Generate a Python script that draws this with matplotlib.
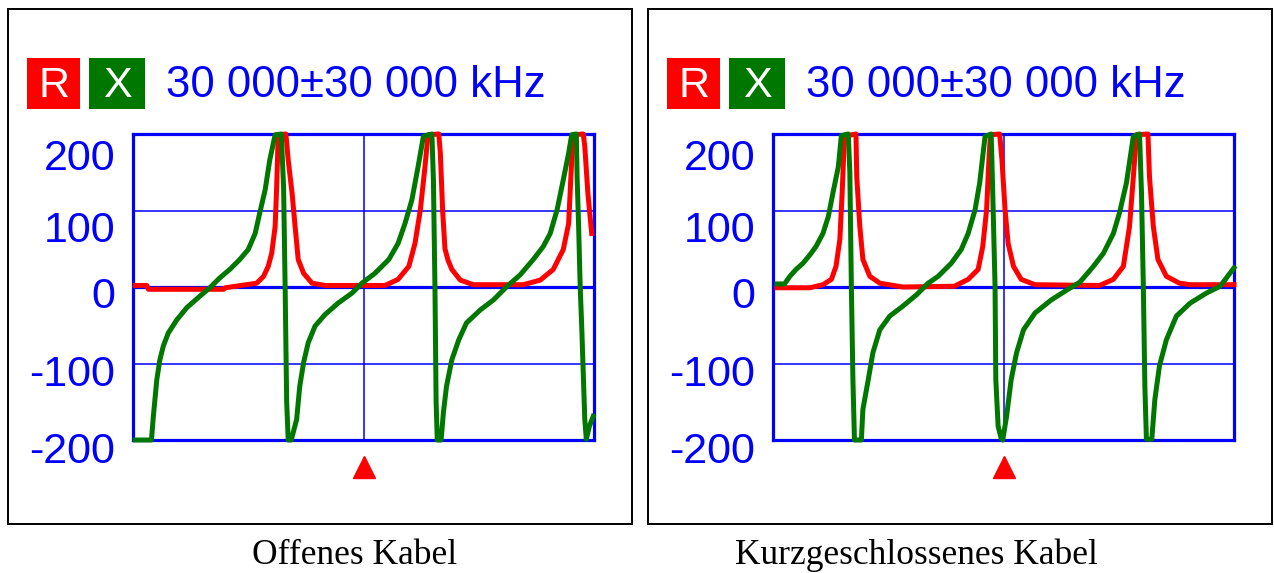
import matplotlib
matplotlib.use("Agg")
import matplotlib.pyplot as plt
from matplotlib.patches import Rectangle
from matplotlib import transforms

# frequency axis (MHz) and sweep setting shown in the header
f_center = 30.0
f_span = 30.0
header = "30 000±30 000 kHz"
ytick_values = [-200, -100, 0, 100, 200]
captions = ["Offenes Kabel", "Kurzgeschlossenes Kabel"]

# open cable: R (red) and X (green)
open_r_mhz = [0.3, 1.8, 2.0, 11.8, 12.0, 16.1, 17.0, 17.6, 18.05, 18.5,
              18.7, 18.9, 19.9, 20.2, 20.7, 21.1, 21.5, 22.2, 23.3, 25.0,
              32.8, 34.5, 35.9, 36.7, 37.4, 38.0, 38.4, 39.8, 40.0, 40.3,
              40.6, 41.0, 41.5, 42.6, 44.3, 50.8, 53.0, 54.7, 56.0, 56.7,
              57.1, 57.3, 58.6, 58.8, 59.2, 59.7]
open_r = [2, 2, -3, -3, -1, 5, 14, 27, 44, 79,
          131, 199, 200, 166, 123, 79, 36, 18, 5, 2,
          2, 10, 27, 57, 101, 157, 199, 200, 175, 100,
          50, 35, 23, 9, 3, 3, 9, 23, 49, 83,
          166, 199, 200, 184, 123, 70]

open_x_mhz = [0.3, 2.4, 2.65, 3.1, 3.5, 3.95, 4.6, 5.7, 7.0, 8.7,
              10.0, 11.3, 12.6, 13.9, 15.0, 15.9, 16.5, 17.2, 17.8, 18.5,
              19.3, 19.6, 19.8, 20.0, 20.2, 20.6, 21.3, 21.7, 22.2, 22.8,
              23.7, 25.0, 26.7, 28.5, 29.8, 31.5, 33.3, 34.5, 35.4, 36.3,
              37.1, 37.8, 38.9, 39.1, 39.3, 39.45, 39.6, 40.1, 40.4, 40.8,
              41.5, 42.4, 43.4, 45.2, 46.9, 48.7, 50.4, 52.1, 53.4, 54.3,
              55.2, 56.0, 56.7, 57.1, 57.7, 57.8, 58.0, 58.2, 58.4, 58.6,
              58.8, 59.0, 59.4, 59.9]
open_x = [-200, -200, -169, -121, -95, -77, -60, -43, -27, -12,
          -1, 12, 23, 36, 49, 70, 97, 127, 166, 199,
          200, 130, 0, -150, -200, -200, -173, -130, -99, -73,
          -51, -36, -21, -8, 5, 18, 36, 57, 83, 114,
          157, 197, 200, 140, 0, -150, -200, -200, -164, -130,
          -95, -69, -47, -30, -17, 1, 16, 36, 53, 70,
          101, 140, 175, 199, 200, 144, 79, 1, -51, -112,
          -173, -199, -182, -169]

# short-circuited cable
short_r_mhz = [0.5, 4.8, 6.5, 7.6, 8.2, 8.7, 9.0, 9.3, 10.8, 10.9,
               11.3, 11.7, 12.6, 13.9, 16.9, 23.6, 25.4, 26.7, 27.3, 27.8,
               28.1, 28.3, 29.5, 29.8, 30.2, 30.6, 31.3, 32.3, 34.1, 42.5,
               44.3, 45.6, 46.4, 46.9, 47.3, 48.8, 49.0, 49.5, 50.1, 51.2,
               52.9, 54.3, 60.0]
short_r = [-1, -1, 3, 10, 27, 62, 123, 197, 200, 144,
           79, 36, 14, 5, 0, 1, 10, 23, 53, 101,
           166, 199, 200, 166, 101, 57, 27, 10, 3, 2,
           10, 27, 79, 144, 199, 200, 144, 79, 36, 14,
           5, 3, 3]

short_x_mhz = [0.5, 1.5, 2.2, 3.0, 3.9, 4.8, 5.6, 6.5, 7.2, 7.8,
               8.5, 8.9, 9.8, 10.0, 10.2, 10.4, 10.6, 11.5, 11.7, 12.4,
               13.0, 13.9, 15.2, 16.9, 18.7, 20.2, 21.5, 23.2, 24.5, 25.4,
               26.3, 26.9, 27.6, 28.4, 28.6, 28.9, 29.0, 29.3, 29.7, 29.9,
               30.4, 31.0, 31.7, 32.6, 34.1, 36.2, 38.4, 39.9, 40.6, 41.7,
               43.0, 44.3, 45.1, 46.0, 46.9, 47.7, 47.96, 48.2, 48.4, 48.6,
               49.3, 49.7, 50.3, 51.2, 52.5, 54.3, 56.4, 58.2, 60.0]
short_x = [4, 4, 14, 23, 31, 42, 53, 70, 92, 123,
           157, 198, 200, 150, 0, -120, -200, -200, -160, -121,
           -86, -56, -38, -25, -10, 5, 14, 31, 49, 70,
           101, 136, 197, 200, 123, 1, -121, -182, -198, -200,
           -169, -121, -86, -56, -34, -17, -3, 6, 14, 27,
           44, 70, 97, 136, 197, 200, 123, 1, -130, -199,
           -199, -147, -103, -69, -38, -21, -8, 1, 25]

W, H = 1274, 573
BLUE = "#0000ff"
RED = "#ff0000"
GREEN = "#007800"
SANS = ["Liberation Sans", "DejaVu Sans"]
SERIF = ["Liberation Serif", "DejaVu Serif"]
FS = 31

fig = plt.figure(figsize=(W / 100, H / 100), dpi=100)


def fbox(x0, y0, x1, y1):
    # pixel box (top-left origin) -> figure fraction rect
    return [x0 / W, 1 - y1 / H, (x1 - x0) / W, (y1 - y0) / H]


def fxy(x, y):
    return x / W, 1 - y / H


label_drop = {-200: 23, -100: 22, 0: 21, 100: 31, 200: 36}

panels = [(0, open_r_mhz, open_r, open_x_mhz, open_x, captions[0], 355),
          (640, short_r_mhz, short_r, short_x_mhz, short_x, captions[1], 916)]

for dx, r_f, r_v, x_f, x_v, cap, cap_x in panels:
    # outer frame of the screenshot
    fr = fbox(8 + dx, 9, 632 + dx, 524)
    fig.patches.append(Rectangle((fr[0], fr[1]), fr[2], fr[3], transform=fig.transFigure,
                                 fill=False, ec="black", lw=1.4))

    # header: R / X boxes and sweep text
    for (x0, x1), col, ch in [((27, 80), RED, "R"), ((89, 145), GREEN, "X")]:
        b = fbox(x0 + dx, 58, x1 + dx, 109)
        fig.patches.append(Rectangle((b[0], b[1]), b[2], b[3], transform=fig.transFigure,
                                     color=col, lw=0))
        tx, ty = fxy((x0 + x1) / 2 + dx, 97)
        fig.text(tx, ty, ch, color="white", fontsize=FS, family=SANS,
                 ha="center", va="baseline")
    tx, ty = fxy(166 + dx, 97)
    fig.text(tx, ty, header, color=BLUE, fontsize=FS + 0.5, family=SANS, va="baseline")

    ax = fig.add_axes(fbox(133 + dx, 134, 594 + dx, 440))
    ax.set_xlim(f_center - f_span, f_center + f_span)
    ax.set_ylim(-200, 200)
    ax.set_xticks([])
    ax.set_yticks([])
    for sp in ax.spines.values():
        sp.set_color(BLUE)
        sp.set_linewidth(2.3)
    for v in ytick_values[1:-1]:
        ax.axhline(v, color=BLUE, lw=2.3 if v == 0 else 1.1, zorder=1)
    ax.axvline(f_center, color=BLUE, lw=1.1, zorder=1)

    ax.plot(r_f, r_v, color=RED, lw=3.6, clip_on=False, zorder=3)
    ax.plot(x_f, x_v, color=GREEN, lw=3.6, clip_on=False, zorder=4)

    for v in ytick_values:
        tr = transforms.offset_copy(ax.get_yaxis_transform(), fig=fig,
                                    x=-18, y=-label_drop[v], units="dots")
        ax.text(0, v, str(v), transform=tr, color=BLUE, fontsize=FS,
                family=SANS, ha="right", va="baseline")

    # marker at the centre frequency
    mk = transforms.blended_transform_factory(ax.transData, ax.transAxes)
    ax.plot([f_center], [-0.088], marker="^", ms=16, color=RED, mec=RED,
            transform=mk, clip_on=False)

    cx, cy = fxy(cap_x, 564)
    fig.text(cx, cy, cap, fontsize=25.5, family=SERIF, ha="center", va="baseline")

fig.savefig("out.png", dpi=100, facecolor="white")
